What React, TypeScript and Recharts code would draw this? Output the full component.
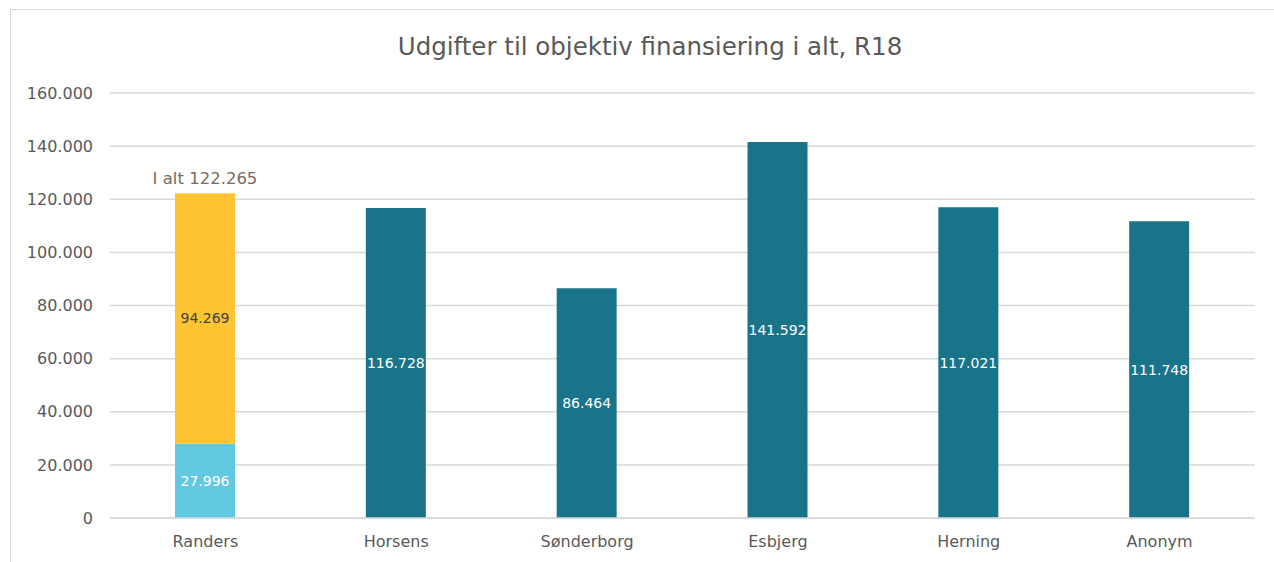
import { BarChart, Bar, XAxis, YAxis, CartesianGrid, LabelList } from 'recharts';

const FONT = '"DejaVu Sans", Verdana, sans-serif';
const TEAL = '#1A7489';
const YELLOW = '#FFC434';
const LIGHT = '#62C9E3';

const CATEGORIES = ['Randers', 'Horsens', 'Sønderborg', 'Esbjerg', 'Herning', 'Anonym'];
const BASE = [27996, null, null, null, null, null];
const TOP = [94269, null, null, null, null, null];
const OTHERS = [null, 116728, 86464, 141592, 117021, 111748];
const Y_TICKS = [0, 20000, 40000, 60000, 80000, 100000, 120000, 140000, 160000];

const data = CATEGORIES.map((name, i) => ({
  name,
  base: BASE[i],
  top: TOP[i],
  other: OTHERS[i],
  total: (BASE[i] ?? 0) + (TOP[i] ?? 0),
}));

const fmt = (v: any) => (v == null ? '' : Number(v).toLocaleString('da-DK'));

function TotalLabel(props: any) {
  const { x, y, width, index } = props;
  const d = data[index];
  if (!d || !d.top) return null;
  return (
    <text x={x + width / 2} y={y - 9} textAnchor="middle" fill="#7A6A5E" fontSize={16.5} fontFamily={FONT}>
      I alt {fmt(d.total)}
    </text>
  );
}

export default function App() {
  return (
    <div style={{ position: 'absolute', left: 0, top: 0, width: 1274, height: 562, background: '#fff', overflow: 'hidden' }}>
      <div style={{ position: 'absolute', left: 10, top: 9, width: 1300, height: 600, border: '1px solid #D9D9D9' }} />
      <div
        style={{
          position: 'absolute',
          left: 0,
          width: 1300,
          top: 32,
          textAlign: 'center',
          fontFamily: FONT,
          fontSize: 24.5,
          color: '#595959',
        }}
      >
        Udgifter til objektiv finansiering i alt, R18
      </div>
      <BarChart
        width={1274}
        height={562}
        data={data}
        margin={{ top: 93, right: 19, left: 0, bottom: 14 }}
        barSize={60}
      >
        <CartesianGrid vertical={false} stroke="#D9D9D9" strokeWidth={1.5} />
        <XAxis
          dataKey="name"
          axisLine={{ stroke: '#D9D9D9', strokeWidth: 1.5 }}
          tickLine={false}
          height={30}
          tick={{ fill: '#595959', fontSize: 16, fontFamily: FONT }}
          tickMargin={12}
        />
        <YAxis
          width={110}
          domain={[0, 160000]}
          ticks={Y_TICKS}
          axisLine={false}
          tickLine={false}
          tickFormatter={fmt}
          tick={{ fill: '#595959', fontSize: 16, fontFamily: FONT }}
          tickMargin={11}
        />
        <Bar dataKey="base" stackId="s" fill={LIGHT} isAnimationActive={false}>
          <LabelList dataKey="base" position="center" formatter={fmt} fill="#fff" fontSize={14} fontFamily={FONT} />
        </Bar>
        <Bar dataKey="top" stackId="s" fill={YELLOW} isAnimationActive={false}>
          <LabelList dataKey="top" position="center" formatter={fmt} fill="#404040" fontSize={14} fontFamily={FONT} />
          <LabelList dataKey="top" content={<TotalLabel />} />
        </Bar>
        <Bar dataKey="other" stackId="s" fill={TEAL} isAnimationActive={false}>
          <LabelList dataKey="other" position="center" formatter={fmt} fill="#fff" fontSize={14} fontFamily={FONT} />
        </Bar>
      </BarChart>
    </div>
  );
}
